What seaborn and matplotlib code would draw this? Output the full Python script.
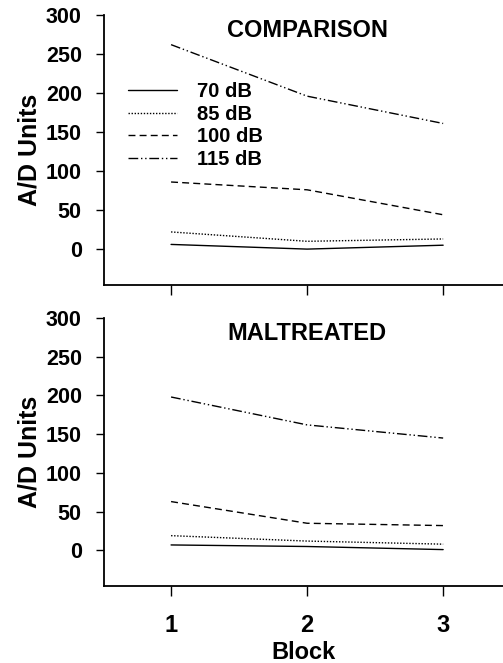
import matplotlib
matplotlib.use("Agg")
import matplotlib.pyplot as plt
import seaborn as sns
import pandas as pd

blocks = [1, 2, 3]
levels = ["70 dB", "85 dB", "100 dB", "115 dB"]
comparison = {
    "70 dB": [6, 0, 5],
    "85 dB": [22, 10, 13],
    "100 dB": [86, 76, 44],
    "115 dB": [262, 196, 161],
}
maltreated = {
    "70 dB": [7, 5, 1],
    "85 dB": [19, 12, 8],
    "100 dB": [63, 35, 32],
    "115 dB": [198, 162, 145],
}
panel_titles = ["COMPARISON", "MALTREATED"]
yticks = [0, 50, 100, 150, 200, 250, 300]

def long_form(d):
    rows = []
    for lv in levels:
        for b, v in zip(blocks, d[lv]):
            rows.append({"Block": b, "Value": v, "Level": lv})
    return pd.DataFrame(rows)

sns.set_theme(style="ticks")
plt.rcParams["font.family"] = ["Liberation Sans", "DejaVu Sans"]
plt.rcParams["font.weight"] = "bold"
for k in ["text.color", "axes.labelcolor", "xtick.color", "ytick.color", "axes.edgecolor"]:
    plt.rcParams[k] = "black"

dashes = {"70 dB": "", "85 dB": (1, 1.2), "100 dB": (5, 3), "115 dB": (7, 2, 1, 2, 1, 2)}

fig = plt.figure(figsize=(5.03, 6.63), dpi=100)
ax1 = fig.add_axes([104 / 503, 1 - 285 / 663, 399 / 503, 270 / 663])
ax2 = fig.add_axes([104 / 503, 1 - 586 / 663, 399 / 503, 268 / 663])

for ax, data, title in zip([ax1, ax2], [comparison, maltreated], panel_titles):
    df = long_form(data)
    sns.lineplot(data=df, x="Block", y="Value", style="Level", style_order=levels,
                 dashes=dashes, color="black", linewidth=1.0, ax=ax, legend=False)
    ax.set_xlim(0.507, 3.44)
    ax.set_ylim(-46, 300)
    ax.set_yticks(yticks)
    ax.set_xticks(blocks)
    ax.spines["top"].set_visible(False)
    ax.spines["right"].set_visible(False)
    for s in ["left", "bottom"]:
        ax.spines[s].set_linewidth(1.3)
        ax.spines[s].set_color("black")
    ax.tick_params(axis="y", length=6, width=1, labelsize=15.5, pad=10, colors="black")
    ax.tick_params(axis="x", length=7, width=1, labelsize=17, pad=13, colors="black")
    for lab in ax.get_yticklabels() + ax.get_xticklabels():
        lab.set_fontweight("bold")
    ax.set_ylabel("A/D Units", fontsize=18, fontweight="bold")
    ax.yaxis.set_label_coords(-0.157, 0.5)
    ax.text(2.0, 272, title, ha="center", va="baseline",
            fontsize=17, fontweight="bold")

ax1.set_xlabel("")
ax1.set_xticklabels([])
ax2.set_xlabel("Block", fontsize=17, fontweight="bold", labelpad=3)

handles = ax1.get_lines()[:4]
leg = ax1.legend(handles, levels, loc="upper left", bbox_to_anchor=(0.06, 0.752),
                 frameon=False, handlelength=2.45, handletextpad=1.0,
                 labelspacing=0.18, borderpad=0, borderaxespad=0,
                 prop={"weight": "bold", "size": 14.5})

fig.savefig("out.png", dpi=100)
